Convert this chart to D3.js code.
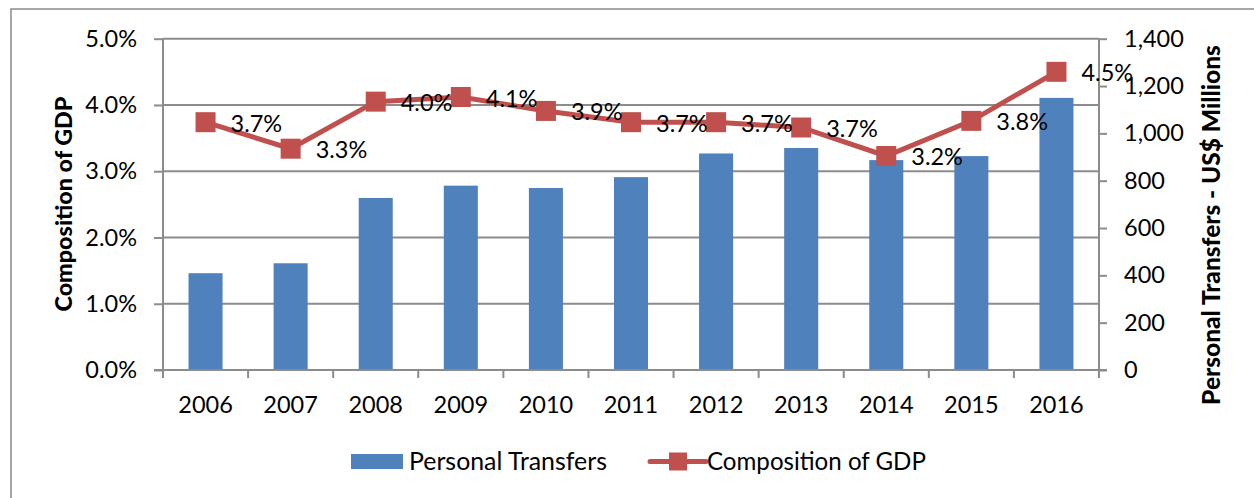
<!DOCTYPE html>
<html><head><meta charset="utf-8">
<script src="https://cdn.jsdelivr.net/npm/d3@7"></script>
<style>
html,body{margin:0;padding:0;background:#fff;}
svg text{font-family:Lato,"Open Sans",sans-serif;fill:#000;}
</style></head>
<body>
<svg id="chart" width="1254" height="498"></svg>
<script>
const years = ["2006","2007","2008","2009","2010","2011","2012","2013","2014","2015","2016"];
const transfers = [409, 451, 727, 779, 769, 815, 915, 938, 887, 904, 1150];
const gdpShare = [3.74, 3.34, 4.05, 4.12, 3.91, 3.74, 3.74, 3.66, 3.23, 3.76, 4.50];
const leftTicks = [0, 1, 2, 3, 4, 5];
const rightTicks = [0, 200, 400, 600, 800, 1000, 1200, 1400];
const seriesNames = ["Personal Transfers", "Composition of GDP"];
const axisTitles = ["Composition of GDP", "Personal Transfers - US$ Millions"];

const blue = "#4F81BD", red = "#C0504D", grid = "#8C8C8C";
const svg = d3.select("#chart");
const L = 163, R = 1099, T = 38.7, B = 370;
const FS = "23.5px";

// outer frame
svg.append("rect").attr("x",11).attr("y",9).attr("width",1260).attr("height",520)
  .attr("fill","none").attr("stroke","#8a8a8a").attr("stroke-width",1.5);

const x = d3.scaleBand().domain(years).range([L,R]).paddingInner(0.6).paddingOuter(0.3);
const yL = d3.scaleLinear().domain([0,5]).range([B,T]);
const yR = d3.scaleLinear().domain([0,1400]).range([B,T]);

// gridlines
svg.append("g").selectAll("line").data(leftTicks.filter(d=>d>0)).join("line")
  .attr("x1",L).attr("x2",R).attr("y1",d=>yL(d)).attr("y2",d=>yL(d))
  .attr("stroke",grid).attr("stroke-width",2);

// bars
svg.append("g").selectAll("rect").data(years).join("rect")
  .attr("x",d=>x(d)).attr("width",x.bandwidth())
  .attr("y",(d,i)=>yR(transfers[i])).attr("height",(d,i)=>B-yR(transfers[i]))
  .attr("fill",blue);

// left axis
const gl = svg.append("g").attr("transform",`translate(${L},0)`)
  .call(d3.axisLeft(yL).tickValues(leftTicks).tickSize(9).tickPadding(17).tickFormat(d=>d.toFixed(1)+"%"));
// right axis
const gr = svg.append("g").attr("transform",`translate(${R},0)`)
  .call(d3.axisRight(yR).tickValues(rightTicks).tickSize(8).tickPadding(17).tickFormat(d3.format(",")));
// bottom axis
const xb = d3.scaleLinear().domain([0,11]).range([L,R]);
const gb = svg.append("g").attr("transform",`translate(0,${B})`);
gb.append("line").attr("x1",L-9).attr("x2",R+8).attr("stroke",grid).attr("stroke-width",2);
gb.selectAll("line.t").data(d3.range(0,12)).join("line").attr("class","t")
  .attr("x1",d=>xb(d)).attr("x2",d=>xb(d)).attr("y1",0).attr("y2",8)
  .attr("stroke",grid).attr("stroke-width",2);
gb.selectAll("text").data(years).join("text")
  .attr("x",d=>x(d)+x.bandwidth()/2).attr("y",43).attr("text-anchor","middle")
  .style("font-size",FS).text(d=>d);

[gl,gr].forEach(g=>{
  g.select(".domain").attr("stroke",grid).attr("stroke-width",2);
  g.selectAll(".tick line").attr("stroke",grid).attr("stroke-width",2);
  g.selectAll(".tick text").style("font-size",FS).attr("fill","#000");
});
gl.select(".domain").attr("d",`M0,${B}V${T}`);
gr.select(".domain").attr("d",`M0,${B}V${T}`);

// line
const cx = d=>x(d)+x.bandwidth()/2;
svg.append("path").datum(years)
  .attr("d",d3.line().x(cx).y((d,i)=>yL(gdpShare[i])))
  .attr("fill","none").attr("stroke",red).attr("stroke-width",5);
svg.append("g").selectAll("rect").data(years).join("rect")
  .attr("x",d=>cx(d)-10).attr("y",(d,i)=>yL(gdpShare[i])-10)
  .attr("width",20).attr("height",20).attr("fill",red);
svg.append("g").selectAll("text").data(years).join("text")
  .attr("x",d=>cx(d)+25).attr("y",(d,i)=>yL(gdpShare[i])+9.5)
  .style("font-size",FS).text((d,i)=>gdpShare[i].toFixed(1)+"%");

// axis titles
function fitText(sel, target){
  const w = sel.node().getComputedTextLength();
  const fs = parseFloat(sel.style("font-size"));
  sel.style("font-size",(fs*target/w)+"px");
}
const t1 = svg.append("text").attr("transform","translate(72,204) rotate(-90)")
  .attr("text-anchor","middle").style("font-weight","900").style("font-size","22px").text(axisTitles[0]);
fitText(t1,215);
const t2 = svg.append("text").attr("transform","translate(1220,225) rotate(-90)")
  .attr("text-anchor","middle").style("font-weight","900").style("font-size","22px").text(axisTitles[1]);
fitText(t2,360);

// legend
const lg = svg.append("g");
lg.append("rect").attr("x",351).attr("y",454).attr("width",52).attr("height",15).attr("fill",blue);
const l1 = lg.append("text").attr("x",409).attr("y",470).style("font-size",FS).text(seriesNames[0]);
fitText(l1,198);
lg.append("line").attr("x1",650).attr("x2",706).attr("y1",461.5).attr("y2",461.5)
  .attr("stroke",red).attr("stroke-width",5).attr("stroke-linecap","round");
lg.append("rect").attr("x",669).attr("y",452.5).attr("width",18).attr("height",18).attr("fill",red);
const l2 = lg.append("text").attr("x",707).attr("y",470).style("font-size",FS).text(seriesNames[1]);
fitText(l2,219);
</script>
</body></html>
